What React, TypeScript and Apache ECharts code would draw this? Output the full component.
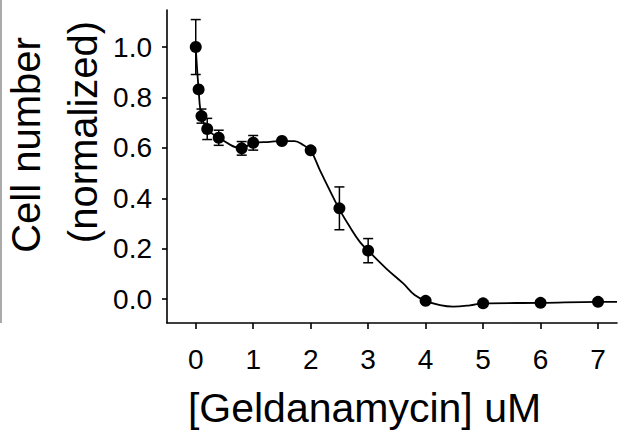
import React, { useEffect, useRef } from "react";
import * as echarts from "echarts";

// Measured data points
const doseX = [0, 0.05, 0.1, 0.2, 0.4, 0.8, 1, 1.5, 2, 2.5, 3, 4, 5, 6, 7];
const cellY = [1.0, 0.832, 0.726, 0.675, 0.64, 0.598, 0.62, 0.627, 0.59, 0.36, 0.192, -0.007, -0.017, -0.015, -0.011];
const errY = [0.109, 0, 0.028, 0.042, 0.03, 0.027, 0.029, 0, 0, 0.085, 0.048, 0, 0, 0, 0];

// Fitted curve
const curveX = [0, 0.05, 0.1, 0.2, 0.4, 0.8, 1.0, 1.29, 1.5, 1.72, 1.87, 2.0, 2.16, 2.3, 2.49, 2.68, 2.855, 3.0, 3.32, 3.61, 3.81, 4.0, 4.25, 4.48, 4.77, 5.0, 6.0, 7.0, 7.33];
const curveY = [1.0, 0.832, 0.726, 0.675, 0.64, 0.598, 0.62, 0.624, 0.627, 0.627, 0.611, 0.589, 0.512, 0.446, 0.36, 0.287, 0.227, 0.192, 0.12, 0.062, 0.016, -0.007, -0.024, -0.03, -0.025, -0.017, -0.015, -0.011, -0.011];

// Tick labels
const xTicks = [0, 1, 2, 3, 4, 5, 6, 7];
const yTicks = [0, 0.2, 0.4, 0.6, 0.8, 1.0];

const xTitle = "[Geldanamycin] uM";
const yTitle1 = "Cell number";
const yTitle2 = "(normalized)";

const FONT = "'Liberation Sans', Arial, Helvetica, sans-serif";

export default function App() {
  const ref = useRef<HTMLDivElement>(null);
  useEffect(() => {
    if (!ref.current) return;
    const chart = echarts.init(ref.current, undefined, { renderer: "svg" });
    const axisStyle = { color: "#000", width: 1.6 };
    chart.setOption({
      animation: false,
      backgroundColor: "#fff",
      grid: { left: 167, right: 4, top: 10, bottom: 112 },
      xAxis: {
        type: "value",
        min: -0.5,
        max: 7.33,
        axisLine: { show: true, onZero: false, lineStyle: axisStyle },
        axisTick: { show: true, length: 6, lineStyle: axisStyle, customValues: xTicks },
        axisLabel: {
          customValues: xTicks,
          color: "#000",
          fontSize: 28,
          fontFamily: FONT,
          margin: 22,
        },
        splitLine: { show: false },
      },
      yAxis: {
        type: "value",
        min: -0.095,
        max: 1.147,
        axisLine: { show: true, onZero: false, lineStyle: axisStyle },
        axisTick: { show: true, length: 5, lineStyle: axisStyle, customValues: yTicks },
        axisLabel: {
          customValues: yTicks,
          color: "#000",
          fontSize: 28,
          fontFamily: FONT,
          margin: 15,
          formatter: (v: number) => v.toFixed(1),
        },
        splitLine: { show: false },
      },
      graphic: [
        {
          type: "line",
          shape: { x1: 1, y1: 0, x2: 1, y2: 323 },
          style: { stroke: "#aaa", lineWidth: 2 },
        },
        {
          type: "text",
          x: 364.5,
          y: 408,
          style: { text: xTitle, font: `41px ${FONT}`, fill: "#000", align: "center", verticalAlign: "middle" },
        },
        {
          type: "text",
          x: 25.7,
          y: 145,
          rotation: Math.PI / 2,
          style: { text: yTitle1, font: `40px ${FONT}`, fill: "#000", align: "center", verticalAlign: "middle" },
        },
        {
          type: "text",
          x: 83.3,
          y: 132,
          rotation: Math.PI / 2,
          style: { text: yTitle2, font: `40px ${FONT}`, fill: "#000", align: "center", verticalAlign: "middle" },
        },
      ],
      series: [
        {
          type: "line",
          data: curveX.map((x, i) => [x, curveY[i]]),
          showSymbol: false,
          smooth: 0.4,
          lineStyle: { color: "#000", width: 1.8 },
          z: 2,
        },
        {
          type: "custom",
          data: doseX.map((x, i) => [x, cellY[i], errY[i]]),
          renderItem: (params: any, api: any) => {
            const x = api.value(0);
            const y = api.value(1);
            const e = api.value(2);
            if (!e) return { type: "group", children: [] };
            const top = api.coord([x, y + e]);
            const bot = api.coord([x, y - e]);
            const hw = 5;
            const st = { stroke: "#000", lineWidth: 1.5 };
            return {
              type: "group",
              children: [
                { type: "line", shape: { x1: top[0], y1: top[1], x2: bot[0], y2: bot[1] }, style: st },
                { type: "line", shape: { x1: top[0] - hw, y1: top[1], x2: top[0] + hw, y2: top[1] }, style: st },
                { type: "line", shape: { x1: bot[0] - hw, y1: bot[1], x2: bot[0] + hw, y2: bot[1] }, style: st },
              ],
            };
          },
          z: 3,
        },
        {
          type: "scatter",
          data: doseX.map((x, i) => [x, cellY[i]]),
          symbol: "circle",
          symbolSize: 12,
          itemStyle: { color: "#000", opacity: 1 },
          z: 4,
        },
      ],
    });
    return () => chart.dispose();
  }, []);
  return <div ref={ref} style={{ width: 621, height: 435, position: "absolute", left: 0, top: 0 }} />;
}
